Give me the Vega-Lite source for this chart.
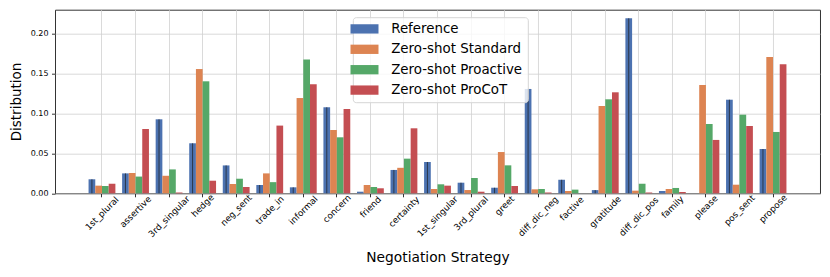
{
  "$schema": "https://vega.github.io/schema/vega-lite/v6.json",
  "width": 765,
  "height": 183.6,
  "autosize": "none",
  "padding": {"left": 55, "top": 9.7, "right": 10, "bottom": 84},
  "data": {"values": [
    {"strategy": "1st_plural", "method": "Reference", "value": 0.0176},
    {"strategy": "1st_plural", "method": "Zero-shot Standard", "value": 0.0096},
    {"strategy": "1st_plural", "method": "Zero-shot Proactive", "value": 0.0092},
    {"strategy": "1st_plural", "method": "Zero-shot ProCoT", "value": 0.012},
    {"strategy": "assertive", "method": "Reference", "value": 0.025},
    {"strategy": "assertive", "method": "Zero-shot Standard", "value": 0.0255},
    {"strategy": "assertive", "method": "Zero-shot Proactive", "value": 0.021},
    {"strategy": "assertive", "method": "Zero-shot ProCoT", "value": 0.0807},
    {"strategy": "3rd_singular", "method": "Reference", "value": 0.0929},
    {"strategy": "3rd_singular", "method": "Zero-shot Standard", "value": 0.022},
    {"strategy": "3rd_singular", "method": "Zero-shot Proactive", "value": 0.030},
    {"strategy": "3rd_singular", "method": "Zero-shot ProCoT", "value": 0.001},
    {"strategy": "hedge", "method": "Reference", "value": 0.0628},
    {"strategy": "hedge", "method": "Zero-shot Standard", "value": 0.156},
    {"strategy": "hedge", "method": "Zero-shot Proactive", "value": 0.1406},
    {"strategy": "hedge", "method": "Zero-shot ProCoT", "value": 0.0158},
    {"strategy": "neg_sent", "method": "Reference", "value": 0.035},
    {"strategy": "neg_sent", "method": "Zero-shot Standard", "value": 0.0117},
    {"strategy": "neg_sent", "method": "Zero-shot Proactive", "value": 0.0183},
    {"strategy": "neg_sent", "method": "Zero-shot ProCoT", "value": 0.0079},
    {"strategy": "trade_in", "method": "Reference", "value": 0.0104},
    {"strategy": "trade_in", "method": "Zero-shot Standard", "value": 0.025},
    {"strategy": "trade_in", "method": "Zero-shot Proactive", "value": 0.014},
    {"strategy": "trade_in", "method": "Zero-shot ProCoT", "value": 0.085},
    {"strategy": "informal", "method": "Reference", "value": 0.0075},
    {"strategy": "informal", "method": "Zero-shot Standard", "value": 0.1196},
    {"strategy": "informal", "method": "Zero-shot Proactive", "value": 0.168},
    {"strategy": "informal", "method": "Zero-shot ProCoT", "value": 0.137},
    {"strategy": "concern", "method": "Reference", "value": 0.108},
    {"strategy": "concern", "method": "Zero-shot Standard", "value": 0.0795},
    {"strategy": "concern", "method": "Zero-shot Proactive", "value": 0.0703},
    {"strategy": "concern", "method": "Zero-shot ProCoT", "value": 0.1058},
    {"strategy": "friend", "method": "Reference", "value": 0.002},
    {"strategy": "friend", "method": "Zero-shot Standard", "value": 0.0104},
    {"strategy": "friend", "method": "Zero-shot Proactive", "value": 0.0079},
    {"strategy": "friend", "method": "Zero-shot ProCoT", "value": 0.0063},
    {"strategy": "certainty", "method": "Reference", "value": 0.0293},
    {"strategy": "certainty", "method": "Zero-shot Standard", "value": 0.032},
    {"strategy": "certainty", "method": "Zero-shot Proactive", "value": 0.0435},
    {"strategy": "certainty", "method": "Zero-shot ProCoT", "value": 0.0816},
    {"strategy": "1st_singular", "method": "Reference", "value": 0.0393},
    {"strategy": "1st_singular", "method": "Zero-shot Standard", "value": 0.0054},
    {"strategy": "1st_singular", "method": "Zero-shot Proactive", "value": 0.0113},
    {"strategy": "1st_singular", "method": "Zero-shot ProCoT", "value": 0.0096},
    {"strategy": "3rd_plural", "method": "Reference", "value": 0.0133},
    {"strategy": "3rd_plural", "method": "Zero-shot Standard", "value": 0.0041},
    {"strategy": "3rd_plural", "method": "Zero-shot Proactive", "value": 0.0192},
    {"strategy": "3rd_plural", "method": "Zero-shot ProCoT", "value": 0.002},
    {"strategy": "greet", "method": "Reference", "value": 0.007},
    {"strategy": "greet", "method": "Zero-shot Standard", "value": 0.0518},
    {"strategy": "greet", "method": "Zero-shot Proactive", "value": 0.0351},
    {"strategy": "greet", "method": "Zero-shot ProCoT", "value": 0.0092},
    {"strategy": "diff_dic_neg", "method": "Reference", "value": 0.131},
    {"strategy": "diff_dic_neg", "method": "Zero-shot Standard", "value": 0.005},
    {"strategy": "diff_dic_neg", "method": "Zero-shot Proactive", "value": 0.0054},
    {"strategy": "diff_dic_neg", "method": "Zero-shot ProCoT", "value": 0.001},
    {"strategy": "factive", "method": "Reference", "value": 0.017},
    {"strategy": "factive", "method": "Zero-shot Standard", "value": 0.0029},
    {"strategy": "factive", "method": "Zero-shot Proactive", "value": 0.0046},
    {"strategy": "factive", "method": "Zero-shot ProCoT", "value": 0.0},
    {"strategy": "gratitude", "method": "Reference", "value": 0.004},
    {"strategy": "gratitude", "method": "Zero-shot Standard", "value": 0.1096},
    {"strategy": "gratitude", "method": "Zero-shot Proactive", "value": 0.118},
    {"strategy": "gratitude", "method": "Zero-shot ProCoT", "value": 0.1268},
    {"strategy": "diff_dic_pos", "method": "Reference", "value": 0.2197},
    {"strategy": "diff_dic_pos", "method": "Zero-shot Standard", "value": 0.0033},
    {"strategy": "diff_dic_pos", "method": "Zero-shot Proactive", "value": 0.012},
    {"strategy": "diff_dic_pos", "method": "Zero-shot ProCoT", "value": 0.001},
    {"strategy": "family", "method": "Reference", "value": 0.0029},
    {"strategy": "family", "method": "Zero-shot Standard", "value": 0.0054},
    {"strategy": "family", "method": "Zero-shot Proactive", "value": 0.0067},
    {"strategy": "family", "method": "Zero-shot ProCoT", "value": 0.0016},
    {"strategy": "please", "method": "Reference", "value": 0.0},
    {"strategy": "please", "method": "Zero-shot Standard", "value": 0.136},
    {"strategy": "please", "method": "Zero-shot Proactive", "value": 0.087},
    {"strategy": "please", "method": "Zero-shot ProCoT", "value": 0.067},
    {"strategy": "pos_sent", "method": "Reference", "value": 0.1175},
    {"strategy": "pos_sent", "method": "Zero-shot Standard", "value": 0.0108},
    {"strategy": "pos_sent", "method": "Zero-shot Proactive", "value": 0.0987},
    {"strategy": "pos_sent", "method": "Zero-shot ProCoT", "value": 0.0845},
    {"strategy": "propose", "method": "Reference", "value": 0.0556},
    {"strategy": "propose", "method": "Zero-shot Standard", "value": 0.171},
    {"strategy": "propose", "method": "Zero-shot Proactive", "value": 0.077},
    {"strategy": "propose", "method": "Zero-shot ProCoT", "value": 0.162}
  ]},
  "encoding": {
    "x": {
      "field": "strategy", "type": "nominal", "sort": null,
      "scale": {"paddingInner": 0.2, "paddingOuter": 1.045},
      "axis": {
        "title": "Negotiation Strategy",
        "titleFontSize": 13.8, "titleFontWeight": "normal", "titlePadding": 12,
        "labelAngle": -45, "labelAlign": "center", "labelBaseline": "middle",
        "labelFontSize": 8.8, "labelPadding": 4, "tickSize": 3.5,
        "grid": true, "domain": false,
        "encoding": {
          "labels": {
            "dx": {"value": {"expr": "-(length(datum.label)*4.4+10)/4 + 5"}},
            "dy": {"value": {"expr": "(length(datum.label)*4.4+10)/4 - 5"}}
          }
        }
      }
    },
    "xOffset": {
      "field": "method", "type": "nominal",
      "scale": {"domain": ["Reference", "Zero-shot Standard", "Zero-shot Proactive", "Zero-shot ProCoT"], "paddingInner": 0, "paddingOuter": 0}
    },
    "y": {
      "field": "value", "type": "quantitative",
      "scale": {"domain": [0, 0.2305], "nice": false, "zero": true},
      "axis": {
        "title": "Distribution", "titleFontSize": 13.5, "titleFontWeight": "normal", "titlePadding": 7,
        "values": [0, 0.05, 0.1, 0.15, 0.2], "format": ".2f",
        "labelFontSize": 8, "labelPadding": 3.5, "tickSize": 3.5,
        "grid": true, "domain": false
      }
    }
  },
  "layer": [
    {
      "mark": {"type": "bar"},
      "encoding": {
        "color": {
          "field": "method", "type": "nominal",
          "scale": {
            "domain": ["Reference", "Zero-shot Standard", "Zero-shot Proactive", "Zero-shot ProCoT"],
            "range": ["#4C72B0", "#DD8452", "#55A868", "#C44E52"]
          },
          "legend": {
            "title": null, "orient": "none", "legendX": 297.8, "legendY": 7.5,
            "labelFontSize": 13.4, "labelColor": "#000000", "labelOffset": 20,
            "symbolType": "M-2.8,-0.93H2.8V0.93H-2.8Z", "symbolSize": 100, "symbolStrokeWidth": 0, "symbolOpacity": 1,
            "rowPadding": 5.4, "padding": 5,
            "strokeColor": "#d5d5d5", "fillColor": "rgba(255,255,255,0.8)", "cornerRadius": 3
          }
        }
      }
    },
    {
      "transform": [{"filter": "datum.method === 'Reference' && datum.value > 0.003"}],
      "mark": {"type": "rule", "color": "#1a1a1a", "strokeWidth": 0.8, "opacity": 0.85},
      "encoding": {
        "y2": {"datum": 0}
      }
    }
  ],
  "config": {
    "font": "DejaVu Sans",
    "view": {"stroke": "#333333", "strokeWidth": 1},
    "axis": {
      "labelColor": "#000000", "titleColor": "#000000", "tickColor": "#333333",
      "gridColor": "#d0d0d0", "gridWidth": 0.8, "labelFont": "DejaVu Sans", "titleFont": "DejaVu Sans"
    },
    "legend": {"labelFont": "DejaVu Sans"}
  }
}
